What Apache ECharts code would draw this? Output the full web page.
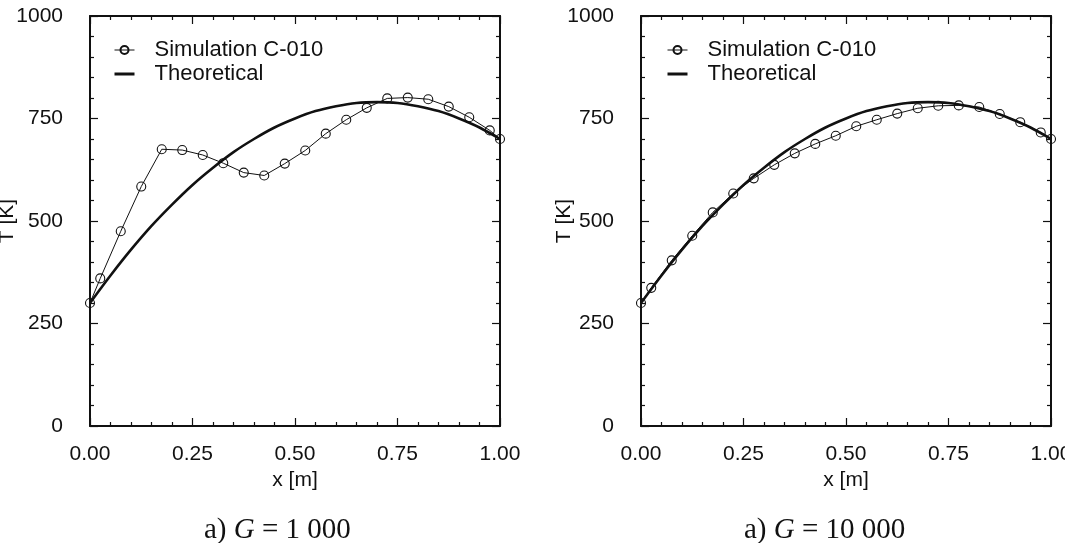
<!DOCTYPE html>
<html>
<head>
<meta charset="utf-8">
<script src="https://cdn.jsdelivr.net/npm/echarts@6/dist/echarts.min.js"></script>
<style>
  html, body { margin: 0; padding: 0; background: #fff; }
  #chart { width: 1065px; height: 543px; }
</style>
</head>
<body>
<div id="chart"></div>
<script>
// simulation points (cell centres + both ends)
const simX = [0, 0.025, 0.075, 0.125, 0.175, 0.225, 0.275, 0.325, 0.375, 0.425, 0.475,
  0.525, 0.575, 0.625, 0.675, 0.725, 0.775, 0.825, 0.875, 0.925, 0.975, 1];
const simG1000 = [300, 360, 475, 584, 675, 673, 661, 641, 618, 611, 640,
  672, 713, 747, 776, 799, 801, 797, 779, 753, 721, 700];
const simG10000 = [300, 337, 404, 464, 521, 567, 604, 637, 665, 688, 708,
  731, 747, 762, 775, 781, 782, 778, 761, 741, 716, 700];

// theoretical curve
const theoX = [0, 0.05, 0.1, 0.15, 0.2, 0.25, 0.3, 0.35, 0.4, 0.45, 0.5,
  0.55, 0.6, 0.65, 0.7, 0.75, 0.8, 0.85, 0.9, 0.95, 1];
const theoT = [300, 367, 430, 488, 540, 588, 630, 668, 700, 728, 750,
  768, 780, 788, 790, 788, 780, 768, 750, 728, 700];

const captions = ["1 000", "10 000"];
const simName = "Simulation C-010";
const theoName = "Theoretical";

const sans = "Liberation Sans, Arial, sans-serif";
const serif = "Liberation Serif, Times New Roman, serif";
const ink = "#111";

const pair = (xs, ys) => xs.map((x, i) => [x, ys[i]]);

const grids = [
  { left: 90, top: 16, width: 410, height: 410, outerBoundsMode: "none", containLabel: false },
  { left: 641, top: 16, width: 410, height: 410, outerBoundsMode: "none", containLabel: false },
];
const nameGaps = [72, 66];

const frameLine = { show: true, onZero: false, lineStyle: { color: ink, width: 2 } };
const ticks = { show: true, inside: true, length: 8, lineStyle: { color: ink, width: 1.2 } };
const minor = { show: true, splitNumber: 5, length: 4, lineStyle: { color: ink, width: 1.2 } };

let xAxes = [];
let yAxes = [];
grids.forEach(function (g, i) {
  xAxes.push({
    gridIndex: i, type: "value", position: "bottom", min: 0, max: 1, interval: 0.25,
    name: "x [m]", nameLocation: "middle", nameGap: 44, nameMoveOverlap: false,
    nameTextStyle: { fontFamily: sans, fontSize: 21, color: ink },
    axisLine: frameLine, axisTick: ticks, minorTick: minor, splitLine: { show: false },
    axisLabel: { fontFamily: sans, fontSize: 21, color: ink, margin: 18,
      formatter: v => v.toFixed(2) },
  });
  xAxes.push({
    gridIndex: i, type: "value", position: "top", min: 0, max: 1, interval: 0.25,
    axisLine: frameLine, axisTick: ticks, minorTick: minor, splitLine: { show: false },
    axisLabel: { show: false },
  });
  yAxes.push({
    gridIndex: i, type: "value", position: "left", min: 0, max: 1000, interval: 250,
    name: "T [K]", nameLocation: "middle", nameGap: nameGaps[i], nameRotate: 90,
    nameMoveOverlap: false,
    nameTextStyle: { fontFamily: sans, fontSize: 21, color: ink },
    axisLine: frameLine, axisTick: ticks, minorTick: minor, splitLine: { show: false },
    axisLabel: { fontFamily: sans, fontSize: 21, color: ink, margin: 27,
      formatter: v => String(v) },
  });
  yAxes.push({
    gridIndex: i, type: "value", position: "right", min: 0, max: 1000, interval: 250,
    axisLine: frameLine, axisTick: ticks, minorTick: minor, splitLine: { show: false },
    axisLabel: { show: false },
  });
});

const simSets = [simG1000, simG10000];
let series = [];
grids.forEach(function (g, i) {
  series.push({
    name: theoName, type: "line", xAxisIndex: i * 2, yAxisIndex: i * 2,
    data: pair(theoX, theoT), symbol: "none", smooth: 0.3,
    lineStyle: { color: ink, width: 2.6 }, itemStyle: { color: ink },
  });
  series.push({
    name: simName, type: "line", xAxisIndex: i * 2, yAxisIndex: i * 2,
    data: pair(simX, simSets[i]), symbol: "circle", symbolSize: 9,
    lineStyle: { color: ink, width: 1 },
    itemStyle: { color: "rgba(255,255,255,0)", borderColor: ink, borderWidth: 1.1 },
  });
});

const legends = [108, 661].map(left => ({
  left: left, top: 34, orient: "vertical", itemWidth: 20, itemHeight: 10, itemGap: 2,
  data: [
    { name: simName, lineStyle: { width: 1 } },
    { name: theoName, itemStyle: { opacity: 0 }, lineStyle: { width: 3 } },
  ],
  textStyle: { fontFamily: sans, fontSize: 22, color: ink, padding: [0, 0, 0, 15] },
}));

const titles = [199, 739].map((left, i) => ({
  left: left, top: 511,
  text: "{n|a) }{g|G}{n| = " + captions[i] + "}",
  textStyle: {
    fontWeight: "normal",
    rich: {
      n: { fontFamily: serif, fontSize: 29, color: ink, fontWeight: "normal" },
      g: { fontFamily: serif, fontSize: 29, color: ink, fontWeight: "normal", fontStyle: "italic" },
    },
  },
}));

const chart = echarts.init(document.getElementById("chart"), null, { renderer: "canvas" });
chart.setOption({
  backgroundColor: "#fff",
  animation: false,
  title: titles,
  legend: legends,
  grid: grids,
  xAxis: xAxes,
  yAxis: yAxes,
  series: series,
});
</script>
</body>
</html>
